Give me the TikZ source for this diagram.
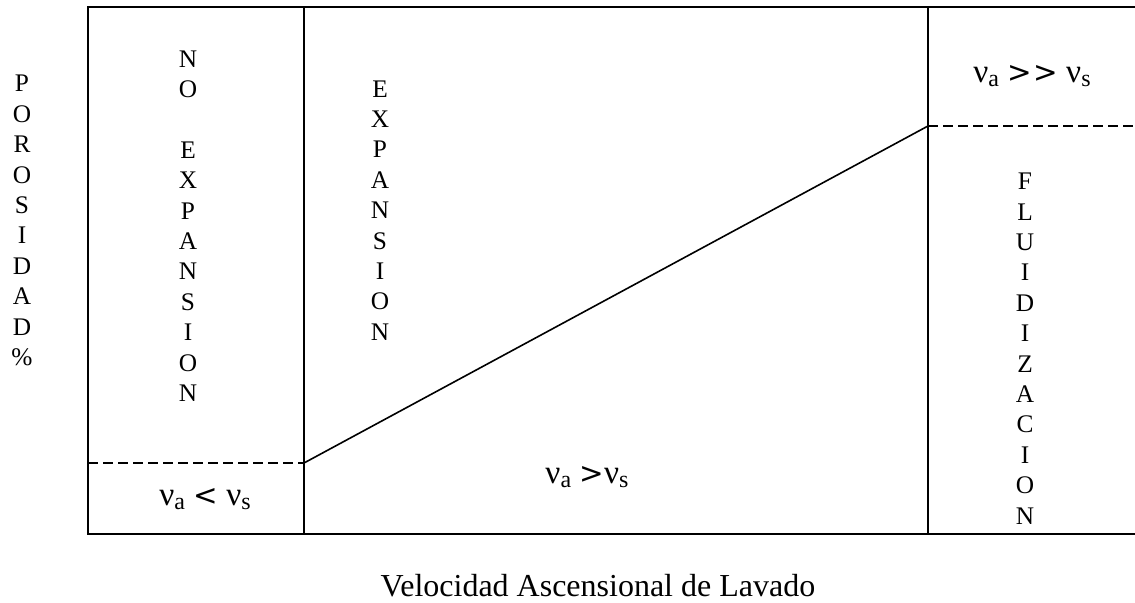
\documentclass[tikz,border=0pt]{standalone}
\usepackage{fontspec}
\setmainfont{Liberation Serif}
\newfontfamily\relfont{DejaVu Sans}
\newcommand{\velsub}[1]{\raisebox{-0.3ex}{\fontsize{18}{18}\selectfont #1}}
\newcommand{\relsign}[1]{{\relfont\fontsize{22}{22}\selectfont #1}}

\tikzset{
  boundary/.style={line width=1.2pt},
  limitline/.style={line width=1.2pt,dash pattern=on 7.5pt off 3.75pt},
  vertlabel/.style={align=center,inner sep=0pt,font=\fontsize{19}{22.8}\selectfont},
  vellabel/.style={inner sep=0pt,anchor=base,font=\fontsize{25}{30}\selectfont}
}

\begin{document}
\begin{tikzpicture}[x=0.75pt,y=-0.75pt]
\useasboundingbox (0,0) rectangle (1135,603);
% frame (open to the right)
\coordinate (tr) at (1135,7);
\coordinate (tl) at (88,7);
\coordinate (bl) at (88,534);
\coordinate (br) at (1135,534);
\draw[boundary] (tr) -- (tl) -- (bl) -- (br);
% zone limits
\coordinate (t1) at (304,7);
\coordinate (b1) at (304,534);
\coordinate (t2) at (928,7);
\coordinate (b2) at (928,534);
\draw[boundary] (t1) -- (b1);
\draw[boundary] (t2) -- (b2);
% porosity curve
\coordinate (p0) at (88,463);
\coordinate (p1) at (304,463);
\coordinate (p2) at (928,126);
\coordinate (p3) at (1135,126);
\draw[limitline] (p0) -- (p1);
\draw[boundary] (p1) -- (p2);
\draw[limitline] (p2) -- (p3);
% texts
\node[vertlabel] (porosidad) at (22,220.5) {P\\O\\R\\O\\S\\I\\D\\A\\D\\\%};
\node[vertlabel] (noexp) at (188,226) {N\\O\\[22.8pt]E\\X\\P\\A\\N\\S\\I\\O\\N};
\node[vertlabel] (exp) at (380,210.5) {E\\X\\P\\A\\N\\S\\I\\O\\N};
\node[vertlabel] (fluid) at (1025,348.5) {F\\L\\U\\I\\D\\I\\Z\\A\\C\\I\\O\\N};
\node[vellabel] (vlow) at (205,505) {ν\velsub{a} \relsign{<} ν\velsub{s}};
\node[vellabel] (vmid) at (587,483) {ν\velsub{a} \relsign{>}ν\velsub{s}};
\node[vellabel] (vhigh) at (1032,82) {ν\velsub{a} \relsign{>\kern1pt>} ν\velsub{s}};
\node[anchor=base,inner sep=0pt,font=\fontsize{24}{28}\selectfont] (xlabel) at (598,596) {Velocidad Ascensional de Lavado};
\end{tikzpicture}
\end{document}
